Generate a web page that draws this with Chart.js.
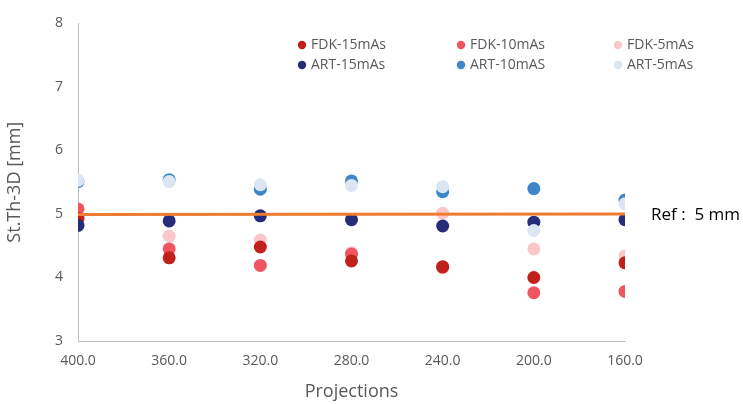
<!DOCTYPE html>
<html><head><meta charset="utf-8">
<script src="https://cdn.jsdelivr.net/npm/chart.js@4"></script>
<style>html,body{margin:0;padding:0;background:#fff}#wrap{width:743px;height:404px;position:relative}</style>
</head><body><div id="wrap"><canvas id="c"></canvas></div>
<script>
const projections = [400, 360, 320, 280, 240, 200, 160];
const fdk15 = [4.93, 4.31, 4.48, 4.26, 4.17, 4.00, 4.23];
const fdk10 = [5.08, 4.45, 4.19, 4.37, 4.16, 3.76, 3.78];
const fdk5  = [4.92, 4.65, 4.59, 4.39, 5.01, 4.45, 4.34];
const art15 = [4.82, 4.89, 4.97, 4.91, 4.81, 4.87, 4.91];
const art10 = [5.51, 5.54, 5.39, 5.52, 5.35, 5.40, 5.22];
const art5  = [5.53, 5.51, 5.46, 5.45, 5.43, 4.74, 5.16];
const refLine = [4.99, 5.00];
const refX = [400, 160];
const yTicks = [3, 4, 5, 6, 7, 8];

const pts = arr => projections.map((p, i) => ({x: p, y: arr[i]}));
const FONT = '"Open Sans", sans-serif';
const GREY = '#595959';

const series = [
  {label: 'FDK-15mAs', data: fdk15, color: '#C0211A', order: 4, col: 0, row: 0},
  {label: 'FDK-10mAs', data: fdk10, color: '#EE5560', order: 5, col: 1, row: 0},
  {label: 'FDK-5mAs',  data: fdk5,  color: '#FAC8CA', order: 6, col: 2, row: 0},
  {label: 'ART-15mAs', data: art15, color: '#252C7A', order: 3, col: 0, row: 1},
  {label: 'ART-10mAS', data: art10, color: '#3D86C8', order: 2, col: 1, row: 1},
  {label: 'ART-5mAs',  data: art5,  color: '#DCE6F2', order: 1, col: 2, row: 1}
];

const datasets = series.map(s => ({
  type: 'scatter', label: s.label, data: pts(s.data), order: s.order,
  backgroundColor: s.color, borderColor: s.color, pointRadius: 6.5, pointHoverRadius: 6.5, borderWidth: 0
}));
datasets.push({
  type: 'line', label: 'Ref', data: refX.map((x, i) => ({x: x, y: refLine[i]})), order: 0,
  borderColor: '#ED7D31', borderWidth: 3, pointRadius: 0, fill: false
});

const legendPlugin = {
  id: 'customLegend',
  afterDraw(chart) {
    const ctx = chart.ctx;
    const colX = [302, 461, 618];
    const rowY = [45, 65];
    ctx.save();
    ctx.font = '14px ' + FONT;
    ctx.textBaseline = 'middle';
    series.forEach(s => {
      const x = colX[s.col], y = rowY[s.row];
      ctx.beginPath();
      ctx.fillStyle = s.color;
      ctx.arc(x, y, 4.2, 0, Math.PI * 2);
      ctx.fill();
      ctx.fillStyle = GREY;
      ctx.textAlign = 'left';
      ctx.fillText(s.label, x + 9, y);
    });
    ctx.restore();
  }
};

const refPlugin = {
  id: 'refLabel',
  afterDatasetsDraw(chart) {
    const ctx = chart.ctx;
    const y = chart.scales.y.getPixelForValue(5);
    ctx.save();
    ctx.font = '17px ' + FONT;
    ctx.fillStyle = '#000';
    ctx.textBaseline = 'middle';
    ctx.textAlign = 'left';
    ctx.fillText('Ref :  5 mm', 651, y + 1);
    ctx.restore();
  }
};

new Chart(document.getElementById('c'), {
  type: 'scatter',
  data: {datasets: datasets},
  options: {
    responsive: true, maintainAspectRatio: false, animation: false,
    layout: {padding: {left: 0, right: 118, top: 16, bottom: 0}},
    plugins: {legend: {display: false}, tooltip: {enabled: false}},
    scales: {
      x: {
        type: 'linear', reverse: true, min: 160, max: 400,
        grid: {display: false, drawTicks: false},
        border: {display: true, color: '#BFBFBF', width: 1},
        ticks: {stepSize: 40, padding: 12, color: GREY, font: {family: FONT, size: 14},
          callback: v => Number(v).toFixed(1)},
        title: {display: true, text: 'Projections', color: GREY, font: {family: FONT, size: 18}, padding: {top: 0, bottom: 1}},
        afterFit: s => { s.height = 63; }
      },
      y: {
        type: 'linear', min: 3, max: 8,
        grid: {display: false, drawTicks: false},
        border: {display: true, color: '#BFBFBF', width: 1},
        afterBuildTicks: s => { s.ticks = yTicks.map(v => ({value: v})); },
        ticks: {padding: 15, color: GREY, font: {family: FONT, size: 14}},
        title: {display: true, text: 'St.Th-3D [mm]', color: GREY, font: {family: FONT, size: 18}, padding: {top: 4, bottom: 0}},
        afterFit: s => { s.width = 78; }
      }
    }
  },
  plugins: [legendPlugin, refPlugin]
});
</script></body></html>
